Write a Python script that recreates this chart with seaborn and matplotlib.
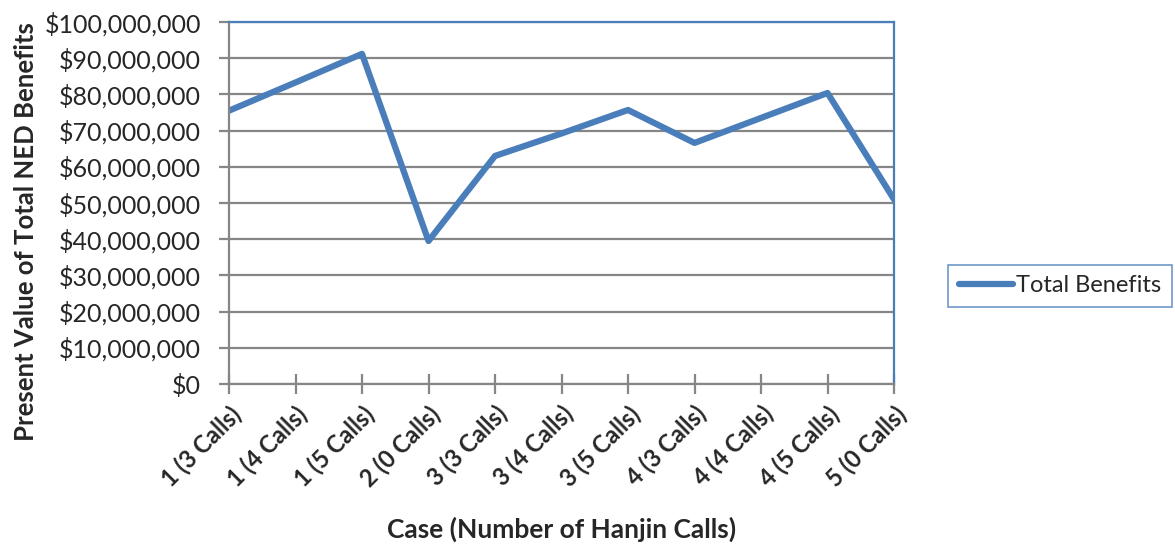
import matplotlib
matplotlib.use("Agg")
import matplotlib.pyplot as plt
import matplotlib.ticker as mticker
import seaborn as sns
import pandas as pd

cases = ["1 (3 Calls)", "1 (4 Calls)", "1 (5 Calls)", "2 (0 Calls)", "3 (3 Calls)",
         "3 (4 Calls)", "3 (5 Calls)", "4 (3 Calls)", "4 (4 Calls)", "4 (5 Calls)",
         "5 (0 Calls)"]
total_benefits = [75.5e6, 83.3e6, 91.2e6, 39.5e6, 63.0e6, 69.2e6, 75.7e6,
                  66.6e6, 73.5e6, 80.4e6, 51.0e6]
series_name = "Total Benefits"

df = pd.DataFrame({"case": cases, "value": total_benefits, "series": series_name})

sns.set_theme(style="white")
plt.rcParams["font.family"] = ["Lato", "DejaVu Sans"]

line_blue = "#4A7EBB"
grid_gray = "#868686"

fig = plt.figure(figsize=(11.75, 5.48), dpi=100)
ax = fig.add_axes([229 / 1175, 1 - 384 / 548, (894 - 229) / 1175, (384 - 22) / 548])

sns.lineplot(data=df, x="case", y="value", hue="series", palette=[line_blue],
             linewidth=4.5, sort=False, ax=ax)

ax.set_xlim(0, len(cases) - 1)
ax.set_ylim(0, 100e6)
ax.yaxis.set_major_locator(mticker.MultipleLocator(10e6))
ax.yaxis.set_major_formatter(mticker.FuncFormatter(lambda v, p: f"${v:,.0f}"))
ax.grid(axis="y", color=grid_gray, linewidth=1.6)
ax.grid(axis="x", visible=False)
ax.set_axisbelow(True)

ax.set_xticks(range(len(cases)))
ax.set_xticklabels(cases, rotation=45, ha="right", rotation_mode="anchor",
                   fontsize=17, fontweight="bold")
ax.tick_params(axis="x", direction="inout", length=14, width=1.6, color=grid_gray,
               bottom=True, pad=6)
ax.tick_params(axis="y", direction="out", length=7, width=1.6, color=grid_gray,
               left=True, labelsize=18, pad=13)

for side in ("left", "bottom"):
    ax.spines[side].set_color(grid_gray)
    ax.spines[side].set_linewidth(1.6)
for side in ("top", "right"):
    ax.spines[side].set_color(line_blue)
    ax.spines[side].set_linewidth(1.6)

ax.set_xlabel("Case (Number of Hanjin Calls)", fontsize=19, fontweight="bold")
ax.xaxis.set_label_coords(0.5, -(517 - 384) / 362)
ax.set_ylabel("Present Value of Total NED Benefits", fontsize=18.5, fontweight="bold")
ax.yaxis.set_label_coords(-(229 - 38) / 665, (384 - 232) / 362)

handles, labels = ax.get_legend_handles_labels()
leg = ax.legend(handles, labels, loc="center left", bbox_to_anchor=(948 / 1175, 1 - 286 / 548),
                bbox_transform=fig.transFigure, fontsize=17, frameon=True, fancybox=False,
                handlelength=2.3, handletextpad=0.15, borderpad=0.45, borderaxespad=0)
leg.get_frame().set_edgecolor(line_blue)
leg.get_frame().set_linewidth(1.2)

fig.savefig("out.png", dpi=100, facecolor="white")
